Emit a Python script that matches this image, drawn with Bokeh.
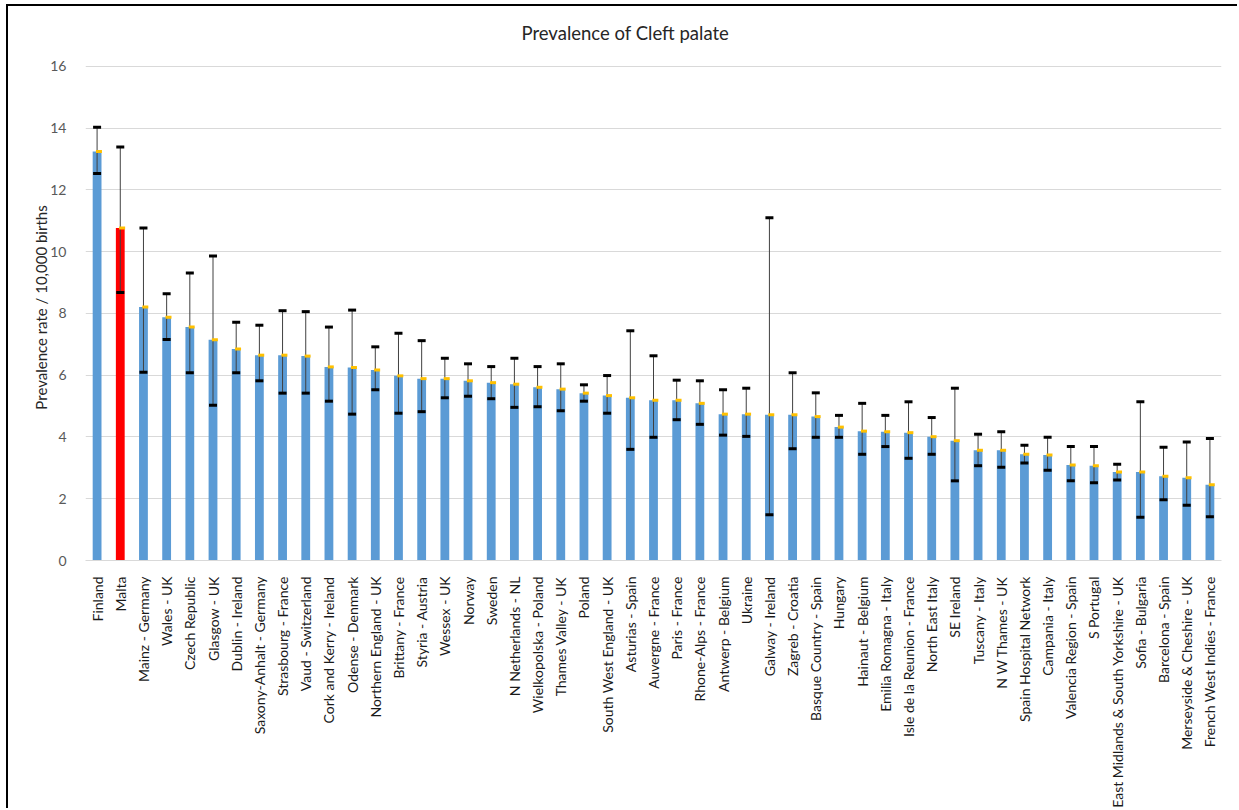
from bokeh.plotting import figure
from bokeh.models import ColumnDataSource, FactorRange
from bokeh.transform import dodge
from bokeh.embed import file_html
from bokeh.resources import INLINE
from math import pi

# Registries and prevalence of cleft palate per 10,000 births, with 95% CI
registries = [
    "Finland", "Malta", "Mainz - Germany", "Wales - UK", "Czech Republic",
    "Glasgow - UK", "Dublin - Ireland", "Saxony-Anhalt - Germany",
    "Strasbourg - France", "Vaud - Switzerland", "Cork and Kerry - Ireland",
    "Odense - Denmark", "Northern England - UK", "Brittany - France",
    "Styria - Austria", "Wessex - UK", "Norway", "Sweden", "N Netherlands - NL",
    "Wielkopolska - Poland", "Thames Valley - UK", "Poland",
    "South West England - UK", "Asturias - Spain", "Auvergne - France",
    "Paris - France", "Rhone-Alps - France", "Antwerp - Belgium", "Ukraine",
    "Galway - Ireland", "Zagreb - Croatia", "Basque Country - Spain", "Hungary",
    "Hainaut - Belgium", "Emilia Romagna - Italy", "Isle de la Reunion - France",
    "North East Italy", "SE Ireland", "Tuscany - Italy", "N W Thames - UK",
    "Spain Hospital Network", "Campania - Italy", "Valencia Region - Spain",
    "S Portugal", "East Midlands & South Yorkshire - UK", "Sofia - Bulgaria",
    "Barcelona - Spain", "Merseyside & Cheshire - UK",
    "French West Indies - France",
]

prevalence = [
    13.25, 10.77, 8.21, 7.88, 7.56, 7.15, 6.85, 6.65, 6.65, 6.62, 6.27, 6.25,
    6.17, 5.98, 5.89, 5.89, 5.82, 5.76, 5.71, 5.61, 5.55, 5.42, 5.34, 5.27,
    5.19, 5.19, 5.09, 4.74, 4.74, 4.72, 4.72, 4.66, 4.32, 4.19, 4.17, 4.14,
    4.01, 3.88, 3.57, 3.57, 3.44, 3.42, 3.09, 3.07, 2.87, 2.87, 2.73, 2.68,
    2.45,
]

ci_lower = [
    12.53, 8.68, 6.10, 7.16, 6.08, 5.03, 6.08, 5.82, 5.42, 5.42, 5.16, 4.74,
    5.53, 4.77, 4.82, 5.27, 5.32, 5.24, 4.96, 4.98, 4.85, 5.16, 4.77, 3.60,
    3.99, 4.56, 4.41, 4.06, 4.02, 1.48, 3.62, 3.99, 3.99, 3.44, 3.69, 3.31,
    3.44, 2.58, 3.07, 3.02, 3.16, 2.92, 2.58, 2.52, 2.61, 1.40, 1.97, 1.79,
    1.42,
]

ci_upper = [
    14.03, 13.39, 10.77, 8.64, 9.31, 9.86, 7.72, 7.62, 8.09, 8.06, 7.56, 8.11,
    6.92, 7.36, 7.12, 6.55, 6.37, 6.28, 6.55, 6.28, 6.37, 5.69, 5.99, 7.44,
    6.63, 5.84, 5.82, 5.53, 5.58, 11.10, 6.08, 5.43, 4.70, 5.09, 4.70, 5.14,
    4.63, 5.58, 4.09, 4.17, 3.73, 3.99, 3.69, 3.69, 3.12, 5.14, 3.67, 3.84,
    3.95,
]

highlight = "Malta"
bar_colors = ["#FF0000" if r == highlight else "#5B9BD5" for r in registries]

source = ColumnDataSource(data=dict(
    registry=registries,
    rate=prevalence,
    lower=ci_lower,
    upper=ci_upper,
    color=bar_colors,
))

# the plot area reaches a little above the top gridline (16), leaving
# white space between the top gridline and the title
y_top = 16 + 16 * 12 / 495

p = figure(
    x_range=FactorRange(*registries, range_padding=0.0),
    y_range=(0, y_top),
    width=1231, height=804,
    output_backend="svg",
    toolbar_location=None,
    title="Prevalence of Cleft palate",
    min_border_left=77, min_border_right=18,
    min_border_top=48, min_border_bottom=249,
)
p.x_range.range_padding = 0
p.margin = (4, 0, 0, 6)
p.styles = {"border-left": "2px solid #000000", "border-top": "2px solid #000000"}
p.outline_line_color = None
p.background_fill_color = "white"
p.border_fill_color = "white"

# title
p.title.text_font = "Lato"
p.title.text_font_size = "18.5px"
p.title.text_font_style = "normal"
p.title.text_color = "#262626"
p.title.align = "left"
p.title.offset = 436
p.title.standoff = 22

# bars
p.vbar(x="registry", top="rate", width=0.38, source=source,
       fill_color="color", line_color=None)

# confidence interval whiskers
p.segment(x0="registry", y0="lower", x1="registry", y1="upper",
          source=source, line_color="#404040", line_width=1)
p.rect(x="registry", y="upper", width=8, height=3, width_units="screen",
       height_units="screen", source=source, fill_color="black", line_color=None)
p.rect(x="registry", y="lower", width=8, height=3, width_units="screen",
       height_units="screen", source=source, fill_color="black", line_color=None)

# point-estimate marker
p.rect(x=dodge("registry", 0.08, range=p.x_range), y="rate", width=6, height=3,
       width_units="screen", height_units="screen", source=source,
       fill_color="#FFC000", line_color=None)

# y axis
p.yaxis.ticker = list(range(0, 17, 2))
p.yaxis.axis_line_color = None
p.yaxis.major_tick_line_color = None
p.yaxis.minor_tick_line_color = None
p.yaxis.major_label_text_font = "Lato"
p.yaxis.major_label_text_font_size = "14px"
p.yaxis.major_label_text_color = "#595959"
p.yaxis.major_label_standoff = 13
p.yaxis.axis_label = "Prevalence rate / 10,000 births"
p.yaxis.axis_label_text_font = "Lato"
p.yaxis.axis_label_text_font_size = "15px"
p.yaxis.axis_label_text_font_style = "normal"
p.yaxis.axis_label_text_color = "#262626"
p.yaxis.axis_label_standoff = -3

# x axis
p.xaxis.axis_line_color = "#D9D9D9"
p.xaxis.major_tick_line_color = None
p.xaxis.minor_tick_line_color = None
p.xaxis.major_label_orientation = pi / 2
p.xaxis.major_label_text_font = "Lato"
p.xaxis.major_label_text_font_size = "14px"
p.xaxis.major_label_text_color = "#1A1A1A"
p.xaxis.major_label_standoff = 10
p.xaxis.group_text_color = None

# grid
p.xgrid.grid_line_color = None
p.ygrid.grid_line_color = "#D9D9D9"
p.ygrid.grid_line_width = 1

open("out.html", "w").write(file_html(p, INLINE))
